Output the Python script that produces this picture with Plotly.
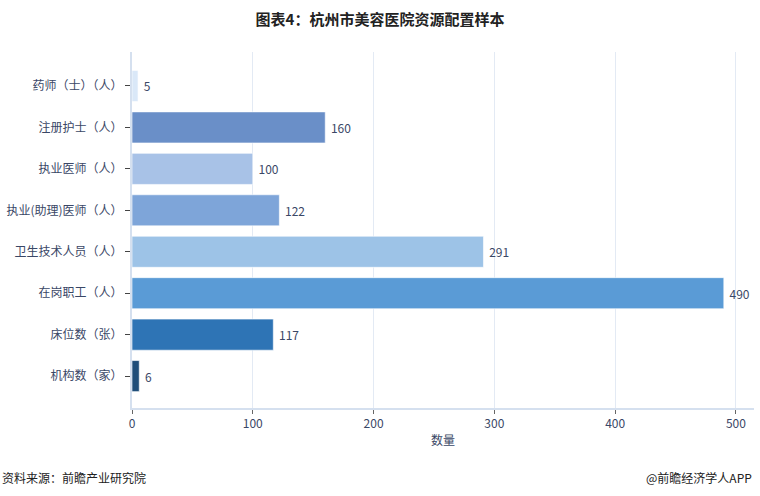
import plotly.graph_objects as go

categories = ["药师（士）（人）", "注册护士（人）", "执业医师（人）", "执业(助理)医师（人）",
              "卫生技术人员（人）", "在岗职工（人）", "床位数（张）", "机构数（家）"]
values = [5, 160, 100, 122, 291, 490, 117, 6]
colors = ["#dae8f8", "#6a8fc8", "#a8c2e7", "#7ea5d9", "#9dc3e7", "#5a9bd6", "#2e74b5", "#1f4e7a"]
xticks = [0, 100, 200, 300, 400, 500]

font = "Noto Sans CJK SC"
navy = "#3a4766"

fig = go.Figure(go.Bar(
    x=values, y=categories, orientation="h",
    marker=dict(color=colors, line=dict(color="rgba(255,255,255,0.6)", width=1)),
    width=0.75,
    text=[" " + str(v) for v in values], textposition="outside",
    textfont=dict(family=font, size=12, color=navy),
    cliponaxis=False,
))

fig.update_layout(
    width=760, height=496,
    margin=dict(l=132, r=6, t=52, b=88),
    paper_bgcolor="white", plot_bgcolor="white",
    showlegend=False,
    font=dict(family=font, color=navy),
    title=dict(text="<b>图表4：杭州市美容医院资源配置样本</b>", x=0.5, xanchor="center",
               y=0.96, yanchor="middle", font=dict(family=font, size=15, color="#222222")),
    xaxis=dict(range=[0, 515], tickvals=xticks, showgrid=True, gridcolor="#e3eaf4",
               zeroline=False, showline=True, linecolor="#d5e0ef", linewidth=2,
               ticks="outside", tickcolor="#666666", ticklen=4,
               tickfont=dict(family=font, size=12, color=navy),
               title=dict(text="数量", font=dict(family=font, size=12, color=navy), standoff=6)),
    yaxis=dict(categoryorder="array", categoryarray=categories, range=[7.77, -0.82],
               showline=True, linecolor="#d5e0ef", linewidth=2, showgrid=False,
               ticks="outside", tickcolor="#444444", ticklen=5,
               tickfont=dict(family=font, size=12, color=navy)),
)

fig.add_annotation(text="资料来源：前瞻产业研究院", xref="paper", yref="paper", x=-132/622, y=-0.194,
                   xanchor="left", yanchor="middle", showarrow=False,
                   font=dict(family=font, size=12, color="#222222"))
fig.add_annotation(text="@前瞻经济学人APP", xref="paper", yref="paper", x=1.0, y=-0.194,
                   xanchor="right", yanchor="middle", showarrow=False,
                   font=dict(family=font, size=12, color="#222222"))

fig.write_html("out.html")
